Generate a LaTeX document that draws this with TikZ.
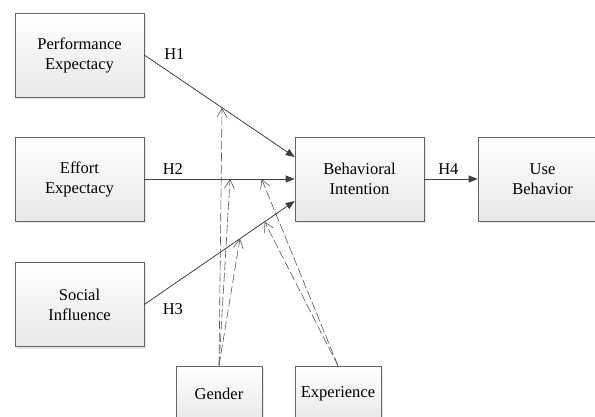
\documentclass[tikz,border=0pt]{standalone}
\usepackage{fontspec}
\setmainfont{Liberation Serif}
\usepackage{tikz}
\usetikzlibrary{arrows.meta, shadows, calc}

\begin{document}
\begin{tikzpicture}[x=1pt, y=-1pt,
    factor/.style={draw=black!60, line width=0.6pt, top color=white, bottom color=black!9,
      drop shadow={shadow xshift=2pt, shadow yshift=-2pt, fill=black!20},
      minimum width=129pt, minimum height=84pt, align=center,
      font=\fontsize{16.5}{20}\selectfont},
    moder/.style={factor, minimum width=86pt, minimum height=56pt},
    path/.style={draw=black!75, line width=0.8pt, -{Triangle[length=9pt, width=7pt]}},
    modpath/.style={draw=black!65, line width=0.6pt, dash pattern=on 9pt off 3pt,
      -{Straight Barb[length=9pt, width=10pt]}},
    hyp/.style={font=\fontsize{16.5}{20}\selectfont, inner sep=1pt}]
          \useasboundingbox (0, 0) rectangle (595, 416);
          \node [factor] (pe) at (79.5, 55) {Performance\\Expectacy};
          \node [factor] (ee) at (79.5, 179) {Effort\\Expectacy};
          \node [factor] (si) at (79.5, 304.5) {Social\\Influence};
          \node [factor] (bi) at (359.5, 179) {Behavioral\\Intention};
          \node [factor] (ub) at (542.5, 179) {Use\\Behavior};
          \node [moder] (gen) at (219, 394) {Gender};
          \node [moder] (exp) at (338, 394) {Experience};
          \draw [path] (pe.east) -- node[hyp, pos=0.2, above=15pt] {H1} ([yshift=22pt]bi.west);
          \draw [path] (ee.east) -- node[hyp, pos=0.19, above=3pt] {H2} (bi.west);
          \draw [path] (si.east) -- node[hyp, pos=0.19, below=17pt] {H3} ([yshift=-22pt]bi.west);
          \draw [path] (bi.east) -- node[hyp, pos=0.45, above=3pt] {H4} (ub.west);
          \coordinate (m1) at ($(pe.east)!0.517!([yshift=22pt]bi.west)$);
          \coordinate (m2) at ($(ee.east)!0.57!(bi.west)$);
          \coordinate (m3) at ($(si.east)!0.636!([yshift=-22pt]bi.west)$);
          \coordinate (m4) at ($(ee.east)!0.78!(bi.west)$);
          \coordinate (m5) at ($(si.east)!0.80!([yshift=-22pt]bi.west)$);
          \draw [modpath] (gen.north) -- (m1);
          \draw [modpath] (gen.north) -- (m2);
          \draw [modpath] (gen.north) -- (m3);
          \draw [modpath] (exp.north) -- (m4);
          \draw [modpath] (exp.north) -- (m5);
        \end{tikzpicture}
\end{document}
